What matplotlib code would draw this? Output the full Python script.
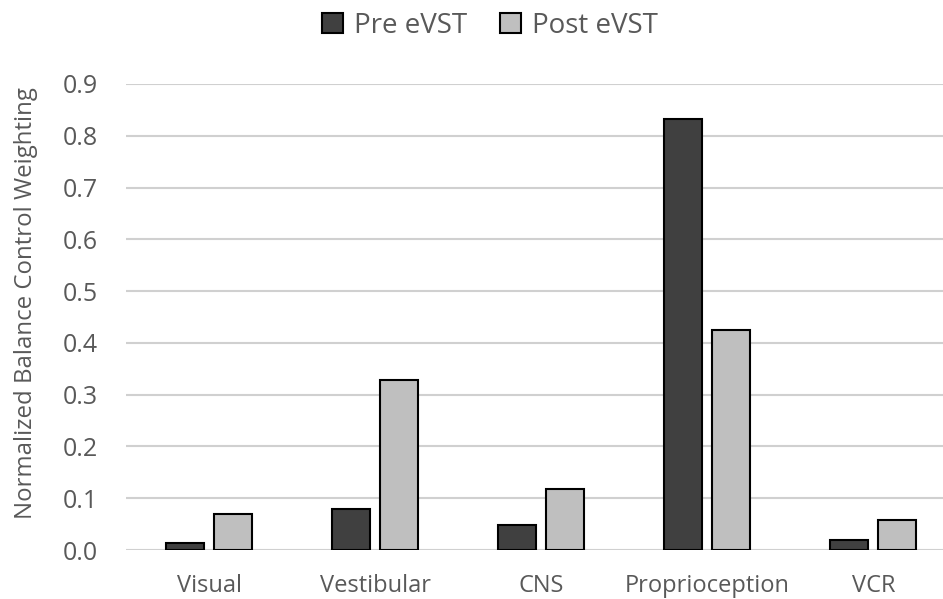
import numpy as np
import matplotlib.pyplot as plt
from matplotlib.patches import Patch

# Balance control weighting, before and after eVST
categorias = ['Visual', 'Vestibular', 'CNS', 'Proprioception', 'VCR']
pre_evst = [0.014, 0.079, 0.049, 0.832, 0.02]
post_evst = [0.07, 0.329, 0.118, 0.424, 0.058]

cor_texto = '#595959'
plt.rcParams['font.family'] = ['Open Sans', 'DejaVu Sans']

fig = plt.figure(figsize=(9.43, 5.99), dpi=100)
ax = fig.add_axes([126 / 943, 49 / 599, 1 - 126 / 943, 466 / 599])

x = np.arange(len(categorias))
largura = 0.23
ax.bar(x - 0.145, pre_evst, largura, color='#404040', edgecolor='black', linewidth=1.5,
       label='Pre eVST', zorder=3)
ax.bar(x + 0.145, post_evst, largura, color='#bfbfbf', edgecolor='black', linewidth=1.5,
       label='Post eVST', zorder=3)

ax.set_xlim(-0.5, 4.42)
ax.set_ylim(0, 0.9)
ax.set_yticks(np.arange(0, 0.91, 0.1))
ax.set_yticklabels(['%.1f' % v for v in np.arange(0, 0.91, 0.1)])
ax.set_xticks(x)
ax.set_xticklabels(categorias)
ax.yaxis.grid(True, color='#d0d0d0', linewidth=1.5, zorder=0)
ax.set_axisbelow(True)
for lado in ['top', 'right', 'left', 'bottom']:
    ax.spines[lado].set_visible(False)
ax.tick_params(axis='y', length=0, labelsize=18, colors=cor_texto, pad=20)
ax.tick_params(axis='x', length=0, labelsize=17, colors=cor_texto, pad=17)
ax.set_ylabel('Normalized Balance Control Weighting', fontsize=17.3, color=cor_texto)
ax.yaxis.set_label_coords(-0.108, 0.53)

handles = [Patch(facecolor='#404040', edgecolor='black', linewidth=1.5, label='Pre eVST'),
           Patch(facecolor='#bfbfbf', edgecolor='black', linewidth=1.5, label='Post eVST')]
fig.legend(handles=handles, loc='center', bbox_to_anchor=(490 / 943, 1 - 26 / 599), ncol=2,
           frameon=False, fontsize=20, labelcolor=cor_texto, handlelength=0.75, handleheight=0.75,
           handletextpad=0.4, columnspacing=1.2)

fig.savefig('out.png', dpi=100)
